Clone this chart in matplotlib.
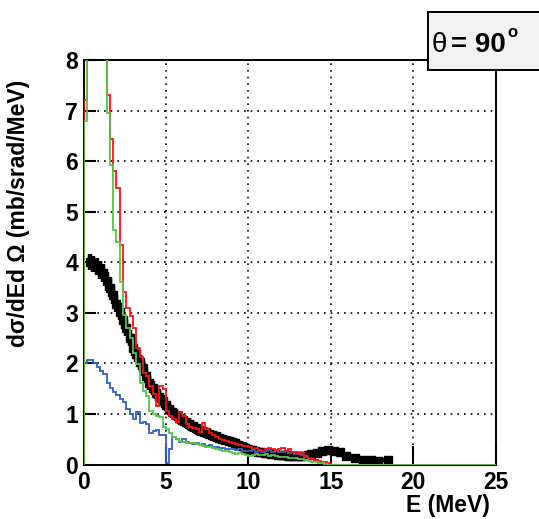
import numpy as np
import matplotlib
matplotlib.use('Agg')
import matplotlib.pyplot as plt
from matplotlib.patches import Rectangle

plt.rcParams['font.family'] = ['Liberation Sans', 'DejaVu Sans']
plt.rcParams['font.weight'] = 'bold'

# histogram bins, 0.2 MeV wide (values after the listed ones are zero)
bin_width = 0.2
green_vals = [6.8, 11.0, 10.5, 10.0, 9.5, 9.0, 8.5, 6.95, 5.93, 4.64,
              4.40, 3.60, 2.96, 2.70, 2.50, 2.20, 1.98, 1.62, 1.45, 1.35,
              1.05, 1.00, 0.95, 0.93, 0.75, 0.70, 0.63, 0.55, 0.50, 0.47,
              0.45, 0.43, 0.42, 0.43, 0.40, 0.38, 0.36, 0.34, 0.35, 0.32,
              0.30, 0.28, 0.26, 0.27, 0.25, 0.22, 0.20, 0.22, 0.20, 0.18,
              0.17, 0.19, 0.20, 0.18, 0.19, 0.20, 0.17, 0.18, 0.16, 0.15,
              0.14, 0.15, 0.13, 0.12, 0.12, 0.10, 0.10, 0.08, 0.06, 0.05,
              0.04, 0.03, 0.02, 0.01, 0.0]
red_vals = [7.2, 11.0, 10.8, 10.2, 9.8, 9.2, 8.8, 7.3, 6.44, 5.8,
            5.47, 4.35, 3.42, 3.10, 2.93, 2.70, 2.30, 2.13, 1.80, 1.75,
            1.55, 1.40, 1.15, 1.55, 1.50, 1.05, 0.95, 0.90, 0.85, 1.03,
            0.95, 0.80, 0.75, 0.72, 0.70, 0.65, 0.83, 0.70, 0.62, 0.58,
            0.55, 0.50, 0.48, 0.46, 0.45, 0.42, 0.40, 0.38, 0.37, 0.36,
            0.34, 0.30, 0.32, 0.28, 0.27, 0.30, 0.33, 0.30, 0.28, 0.30,
            0.32, 0.27, 0.30, 0.25, 0.24, 0.20, 0.22, 0.15, 0.10, 0.10,
            0.08, 0.06, 0.05, 0.04, 0.02]
blue_vals = [2.00, 2.07, 2.07, 2.00, 1.93, 1.85, 1.78, 1.62, 1.52, 1.44,
             1.38, 1.30, 1.24, 1.09, 1.00, 0.89, 1.03, 0.82, 0.85, 0.80,
             0.63, 0.66, 0.69, 0.59, 0.59, 0.02, 0.30, 0.55, 0.50, 0.45,
             0.50, 0.45, 0.42, 0.40, 0.42, 0.38, 0.40, 0.36, 0.38, 0.35,
             0.34, 0.32, 0.33, 0.30, 0.31, 0.30, 0.28, 0.30, 0.27, 0.26,
             0.26, 0.28, 0.25, 0.27, 0.24, 0.26, 0.28, 0.25, 0.27, 0.25,
             0.24, 0.26, 0.22, 0.24, 0.20, 0.22, 0.18, 0.16, 0.12, 0.10,
             0.08, 0.05, 0.03, 0.02, 0.01]

# measured data, 0.2 MeV points from 0.4 MeV
data_y = [4.00, 3.97, 3.92, 3.85, 3.78, 3.62, 3.50, 3.35, 3.18, 3.02,
          2.85, 2.70, 2.50, 2.30, 2.18, 2.02, 1.90, 1.75, 1.62, 1.52,
          1.42, 1.34, 1.25, 1.17, 1.10, 1.03, 0.98, 0.92, 0.88, 0.84,
          0.80, 0.76, 0.72, 0.69, 0.66, 0.64, 0.61, 0.58, 0.56, 0.53,
          0.51, 0.49, 0.46, 0.44, 0.42, 0.39, 0.36, 0.33, 0.30, 0.28,
          0.27, 0.25, 0.24, 0.23, 0.22, 0.21, 0.20, 0.19, 0.18, 0.18,
          0.17, 0.17, 0.16, 0.16, 0.16, 0.17, 0.18, 0.20]
data_err = [0.16, 0.16, 0.17, 0.18, 0.18, 0.18, 0.18, 0.18, 0.17, 0.17,
            0.17, 0.16, 0.16, 0.16, 0.15, 0.15, 0.15, 0.14, 0.14, 0.14,
            0.13, 0.13, 0.13, 0.12, 0.12, 0.12, 0.12, 0.12, 0.12, 0.12,
            0.12, 0.12, 0.12, 0.12, 0.11, 0.11, 0.11, 0.11, 0.11, 0.11,
            0.10, 0.10, 0.10, 0.10, 0.10, 0.09, 0.09, 0.09, 0.08, 0.08,
            0.07, 0.07, 0.07, 0.07, 0.06, 0.06, 0.06, 0.06, 0.06, 0.06,
            0.05, 0.05, 0.05, 0.05, 0.05, 0.05, 0.05, 0.05]
# wider bins at high energy
tail_e = [14.15, 14.5, 14.85, 15.2, 15.55, 15.95, 16.45, 16.95, 17.45, 17.85, 18.45]
tail_dx = [0.15, 0.2, 0.15, 0.2, 0.15, 0.25, 0.25, 0.25, 0.25, 0.15, 0.25]
tail_y = [0.22, 0.26, 0.28, 0.27, 0.24, 0.16, 0.12, 0.09, 0.08, 0.07, 0.08]
tail_err = [0.06, 0.07, 0.07, 0.07, 0.07, 0.06, 0.05, 0.04, 0.04, 0.03, 0.04]

x_ticks = [0, 5, 10, 15, 20, 25]
y_ticks = [0, 1, 2, 3, 4, 5, 6, 7, 8]

edges = np.arange(0, 25.0 + bin_width / 2, bin_width)
nbins = len(edges) - 1
def pad(v):
    return np.concatenate([v, np.zeros(nbins - len(v))])

data_e = 0.4 + bin_width * np.arange(len(data_y))

fig = plt.figure(figsize=(5.39, 5.19), dpi=100)
ax = fig.add_axes([83.5/539, 54.5/519, 412/539, 404.5/519])

ax.errorbar(data_e, data_y, xerr=bin_width/2, yerr=data_err, fmt='s', color='black',
            markersize=6, elinewidth=3.2, capsize=0, zorder=2)
ax.errorbar(tail_e, tail_y, xerr=tail_dx, yerr=tail_err, fmt='s', color='black',
            markersize=6, elinewidth=3.2, capsize=0, zorder=2)

ax.stairs(pad(blue_vals), edges, color='#2f5fc8', lw=1.3, zorder=3)
ax.stairs(pad(red_vals), edges, color='#ff1010', lw=1.3, zorder=4)
ax.stairs(pad(green_vals), edges, color='#55c444', lw=1.3, zorder=5)

ax.set_xlim(0, 25)
ax.set_ylim(0, 8)
ax.set_xticks(x_ticks)
ax.set_yticks(y_ticks)
ax.tick_params(axis='both', direction='in', width=1.5, labelsize=16.5)
ax.tick_params(axis='x', length=14, pad=5)
ax.tick_params(axis='y', length=8.5, pad=4)
for s in ax.spines.values():
    s.set_linewidth(1.4)
ax.grid(True, color='black', linestyle=(0, (1, 3)), linewidth=1.2)
ax.set_axisbelow(True)

fig.text(19/539, 1 - 80/519, 'dσ/dEd Ω (mb/srad/MeV)', rotation=90,
         ha='center', va='top', fontsize=16.5, fontweight='bold')
fig.text(490/539, 1 - 494/519, 'E (MeV)', ha='right', va='top',
         fontsize=16.5, fontweight='bold')

# angle box in the top right corner
box = Rectangle((428/539, 1 - 70/519), 0.3, 58/519, transform=fig.transFigure,
                facecolor='#f2f2f2', edgecolor='black', linewidth=1.4, zorder=5)
fig.add_artist(box)
fig.text(432/539, 1 - 52/519, 'θ', fontsize=20, fontweight='normal',
         va='baseline', zorder=6)
fig.text(451/539, 1 - 52/519, '= 90', fontsize=20, fontweight='bold',
         va='baseline', zorder=6)
fig.text(507/539, 1 - 37/519, 'o', fontsize=12, fontweight='bold',
         va='baseline', zorder=6)

fig.savefig('out.png', dpi=100)
